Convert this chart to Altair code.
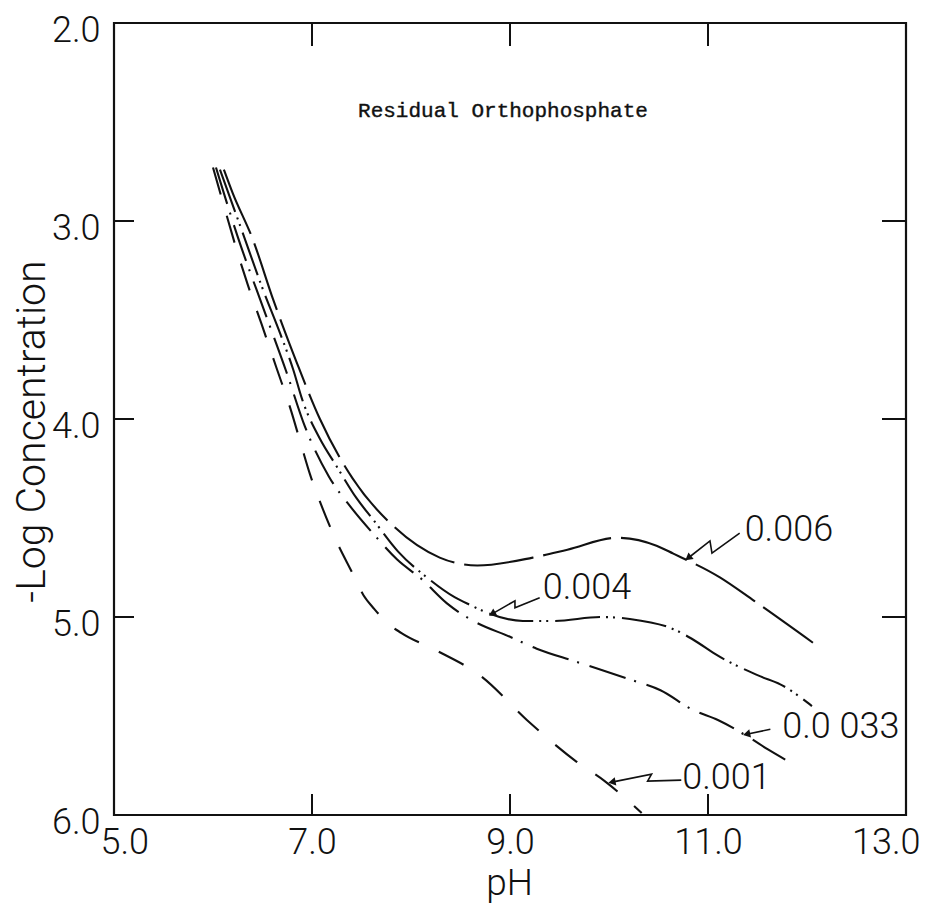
import altair as alt
import pandas as pd

# ---- curve data (pH, -log concentration) ----
ph_0006 = [6.11, 6.20, 6.40, 6.61, 6.85, 7.08, 7.41, 7.82, 8.29, 8.67, 9.23, 9.58, 10.08, 10.48, 10.65, 11.12, 11.47, 12.06]
y_0006 = [2.74, 2.86, 3.09, 3.40, 3.72, 4.00, 4.30, 4.54, 4.70, 4.74, 4.70, 4.66, 4.60, 4.64, 4.68, 4.80, 4.92, 5.13]

ph_0004 = [6.07, 6.30, 6.50, 6.68, 6.81, 6.90, 7.08, 7.25, 7.45, 7.62, 7.87, 8.16, 8.44, 8.60, 8.73, 9.13, 9.45, 9.91, 10.21, 10.69, 10.90, 11.05, 11.53, 11.73, 12.05]
y_0004 = [2.74, 3.06, 3.34, 3.57, 3.75, 3.90, 4.10, 4.24, 4.40, 4.51, 4.67, 4.80, 4.90, 4.94, 4.97, 5.02, 5.02, 5.00, 5.01, 5.07, 5.13, 5.18, 5.30, 5.34, 5.45]

ph_0033 = [6.03, 6.25, 6.53, 6.74, 6.93, 7.17, 7.40, 7.62, 7.86, 8.11, 8.36, 8.63, 9.00, 9.27, 9.63, 9.88, 10.24, 10.52, 10.85, 11.10, 11.42, 11.61, 11.85]
y_0033 = [2.73, 3.08, 3.47, 3.76, 4.04, 4.29, 4.45, 4.58, 4.71, 4.81, 4.93, 5.02, 5.10, 5.16, 5.22, 5.26, 5.32, 5.37, 5.47, 5.52, 5.61, 5.67, 5.74]

ph_0001 = [6.00, 6.12, 6.23, 6.35, 6.49, 6.64, 6.79, 6.89, 6.98, 7.09, 7.24, 7.41, 7.52, 7.63, 7.76, 7.90, 8.26, 8.71, 9.17, 9.67, 9.96, 10.33]
y_0001 = [2.73, 2.94, 3.13, 3.32, 3.52, 3.74, 3.96, 4.13, 4.28, 4.43, 4.61, 4.78, 4.89, 4.96, 5.03, 5.08, 5.17, 5.30, 5.52, 5.73, 5.83, 5.99]

# ---- curve labels ----
label_text = ["0.006", "0.004", "0.0 033", "0.001"]
label_ph = [11.37, 9.33, 11.75, 10.74]
label_y = [4.56, 4.853, 5.557, 5.814]

# ---- squiggly leader arrows (label -> curve) ----
arrow_ph = [[11.32, 11.04, 11.02, 10.80], [9.30, 9.05, 9.05, 8.82], [11.63, 11.39], [10.73, 10.39, 10.43, 10.03]]
arrow_y = [[4.576, 4.677, 4.616, 4.702], [4.903, 4.953, 4.918, 4.984], [5.567, 5.592], [5.824, 5.829, 5.794, 5.834]]
arrow_angle = [322, 330, 348, 349]

# ---- axes ----
x_tick_labels = [5, 7, 9, 11, 13]
y_tick_labels = [2, 3, 4, 5, 6]
x_inner_ticks = [7, 9, 11]
y_inner_ticks = [3, 4, 5]

title_text = "Residual Orthophosphate"
title_ph = [7.465]
title_y = [2.473]

W, H = 792, 792
INK = "#111111"
FW = 300

x_scale = alt.Scale(domain=[5, 13], nice=False, zero=False)
y_scale = alt.Scale(domain=[2, 6], reverse=True, nice=False, zero=False)

x_axis = alt.Axis(values=x_tick_labels, format=".1f", ticks=False, domain=False, grid=False,
                  labelFont="Roboto", labelFontSize=36, labelFontWeight=FW, labelColor=INK,
                  labelPadding=10, labelFlush=True, labelFlushOffset=14,
                  title="pH", titleFont="Roboto", titleFontSize=37, titleFontWeight=FW,
                  titleColor=INK, titleX=395, titleY=79, titleAlign="center", titleBaseline="alphabetic")
y_axis = alt.Axis(values=y_tick_labels, format=".1f", ticks=False, domain=False, grid=False,
                  labelFont="Roboto", labelFontSize=36, labelFontWeight=FW, labelColor=INK,
                  labelPadding=14, labelFlush=False, labelBaseline="middle", labelOffset=7,
                  title="-Log Concentration", titleFont="Roboto", titleFontSize=41,
                  titleFontWeight=FW, titleColor=INK, titleAngle=270,
                  titleX=-82, titleY=408, titleAlign="center", titleBaseline="middle")

X = alt.X("ph:Q", scale=x_scale, axis=x_axis)
Y = alt.Y("val:Q", scale=y_scale, axis=y_axis)


def curve(ph, val, dash):
    df = pd.DataFrame({"ph": ph, "val": val, "idx": list(range(len(ph)))})
    return alt.Chart(df).mark_line(color=INK, strokeWidth=2.1, strokeDash=dash,
                                   interpolate="monotone", strokeCap="butt").encode(
        x=X, y=Y, order="idx:Q")


layers = [
    curve(ph_0006, y_0006, [70, 10]),
    curve(ph_0004, y_0004, [45, 6, 2, 5, 2, 7]),
    curve(ph_0033, y_0033, [38, 9, 2, 11]),
    curve(ph_0001, y_0001, [28, 22]),
]

# leader arrows
rows = []
heads = []
for g, (pxs, pys) in enumerate(zip(arrow_ph, arrow_y)):
    for i, (a, b) in enumerate(zip(pxs, pys)):
        rows.append({"ph": a, "val": b, "idx": i, "g": g})
    heads.append({"ph": pxs[-1], "val": pys[-1], "ang": arrow_angle[g]})
arrows_df = pd.DataFrame(rows)
heads_df = pd.DataFrame(heads)

layers.append(alt.Chart(arrows_df).mark_line(color=INK, strokeWidth=1.6).encode(
    x=X, y=Y, order="idx:Q", detail="g:N"))
layers.append(alt.Chart(heads_df).mark_point(shape="triangle-left", filled=True, size=70,
                                             color=INK, opacity=1).encode(
    x=X, y=Y, angle=alt.Angle("ang:Q", scale=None)))

# curve labels
lab_df = pd.DataFrame({"ph": label_ph, "val": label_y, "t": label_text})
layers.append(alt.Chart(lab_df).mark_text(font="Roboto", fontSize=36, fontWeight=FW, color=INK,
                                          align="left", baseline="middle").encode(x=X, y=Y, text="t:N"))

# in-plot title
tdf = pd.DataFrame({"ph": title_ph, "val": title_y, "t": [title_text]})
layers.append(alt.Chart(tdf).mark_text(font="Liberation Mono", fontSize=21, color=INK, align="left",
                                       baseline="alphabetic", stroke=INK, strokeWidth=0.4).encode(
    x=X, y=Y, text="t:N"))

# inward ticks on all four sides
xt = pd.DataFrame({"ph": x_inner_ticks})
yt = pd.DataFrame({"val": y_inner_ticks})
layers.append(alt.Chart(xt).mark_rule(color=INK, strokeWidth=2).encode(
    x=X, y=alt.value(H), y2=alt.value(H - 21)))
layers.append(alt.Chart(xt).mark_rule(color=INK, strokeWidth=2).encode(
    x=X, y=alt.value(0), y2=alt.value(23)))
layers.append(alt.Chart(yt).mark_rule(color=INK, strokeWidth=2).encode(
    y=Y, x=alt.value(0), x2=alt.value(20)))
layers.append(alt.Chart(yt).mark_rule(color=INK, strokeWidth=2).encode(
    y=Y, x=alt.value(W), x2=alt.value(W - 24)))

chart = alt.layer(*layers).properties(
    width=W, height=H,
    autosize=alt.AutoSizeParams(type="none"),
    padding={"left": 106, "top": 15, "right": 16, "bottom": 89},
    background="white",
).configure_view(stroke=INK, strokeWidth=2.2)

chart.save("out.html", embed_options={"renderer": "svg", "actions": False})
